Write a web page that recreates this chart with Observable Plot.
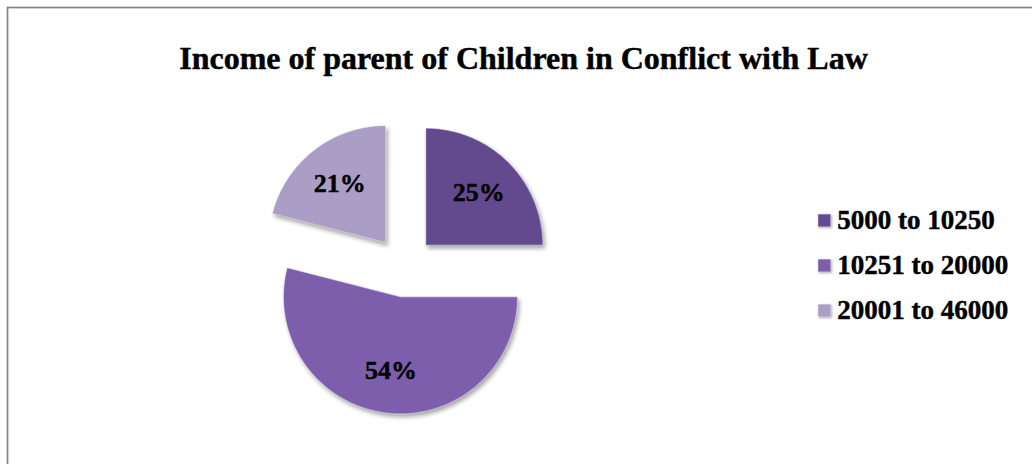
<!DOCTYPE html>
<html><head><meta charset="utf-8">
<script src="https://cdn.jsdelivr.net/npm/d3@7"></script>
<script src="https://cdn.jsdelivr.net/npm/@observablehq/plot@0.6"></script>
<style>body{margin:0;background:#fff} svg{display:block;overflow:hidden}</style>
</head><body><div id="chart"></div>
<script>
const title = "Income of parent of Children in Conflict with Law";
const categories = ["5000 to 10250", "10251 to 20000", "20001 to 46000"];
const shares = [25, 54, 21];
const colors = ["#634a8e", "#7d5eac", "#aa9ec6"];

// layout (radius = 1 data unit)
const explode = 0.26;
const labelRadius = 0.64;
const font = "'Liberation Serif','Times New Roman',serif";

const arcs = d3.pie().sort(null).value(d => d)(shares);
const pts = [];
const labels = [];
arcs.forEach((a, i) => {
  const cat = categories[i];
  const mid = (a.startAngle + a.endAngle) / 2;
  const ox = explode * Math.sin(mid), oy = explode * Math.cos(mid);
  pts.push({cat, x: ox, y: oy});
  const n = Math.ceil((a.endAngle - a.startAngle) / 0.01);
  for (let k = 0; k <= n; k++) {
    const t = a.startAngle + (a.endAngle - a.startAngle) * k / n;
    pts.push({cat, x: ox + Math.sin(t), y: oy + Math.cos(t)});
  }
  pts.push({cat, x: ox, y: oy});
  labels.push({text: shares[i] + "%", x: ox + labelRadius * Math.sin(mid), y: oy + labelRadius * Math.cos(mid)});
});

const legend = categories.map((c, i) => ({cat: c, x: 3.59, tx: 3.70, y: 0.395 - i * 0.385}));

const bold = {fontWeight: "bold", fill: "#000", stroke: "#000", strokeWidth: 0.45, paintOrder: "stroke"};

const chart = Plot.plot({
  width: 1032, height: 464, margin: 0,
  x: {domain: [-3.451, 5.369], axis: null},
  y: {domain: [-1.691, 2.275], axis: null},
  color: {domain: categories, range: colors},
  style: {fontFamily: font},
  marks: [
    Plot.frame({stroke: "#878787", strokeWidth: 1.75, insetLeft: 7, insetTop: 7, insetRight: -10, insetBottom: -10}),
    Plot.line(pts, {x: "x", y: "y", z: "cat", fill: "cat", stroke: "#ffffff", strokeOpacity: 0.35, strokeWidth: 1.2, curve: "linear"}),
    Plot.text(labels, {x: "x", y: "y", text: "text", fontSize: 26, ...bold}),
    Plot.text([title], {frameAnchor: "top", dx: 7, dy: 46, fontSize: 32, ...bold}),
    Plot.dot(legend, {x: "x", y: "y", symbol: "square", r: 7.2, fill: "cat", stroke: "#ffffff", strokeOpacity: 0.4, strokeWidth: 1}),
    Plot.text(legend, {x: "tx", y: "y", text: "cat", textAnchor: "start", fontSize: 27, ...bold})
  ]
});
document.getElementById("chart").append(chart);
d3.select(chart).selectAll("g[aria-label=line] path").style("filter", "drop-shadow(2px 3px 2px rgba(0,0,0,0.35))");
d3.select(chart).selectAll("g[aria-label=dot] path").style("filter", "drop-shadow(1px 1px 1px rgba(0,0,0,0.35))");
</script>
</body></html>
